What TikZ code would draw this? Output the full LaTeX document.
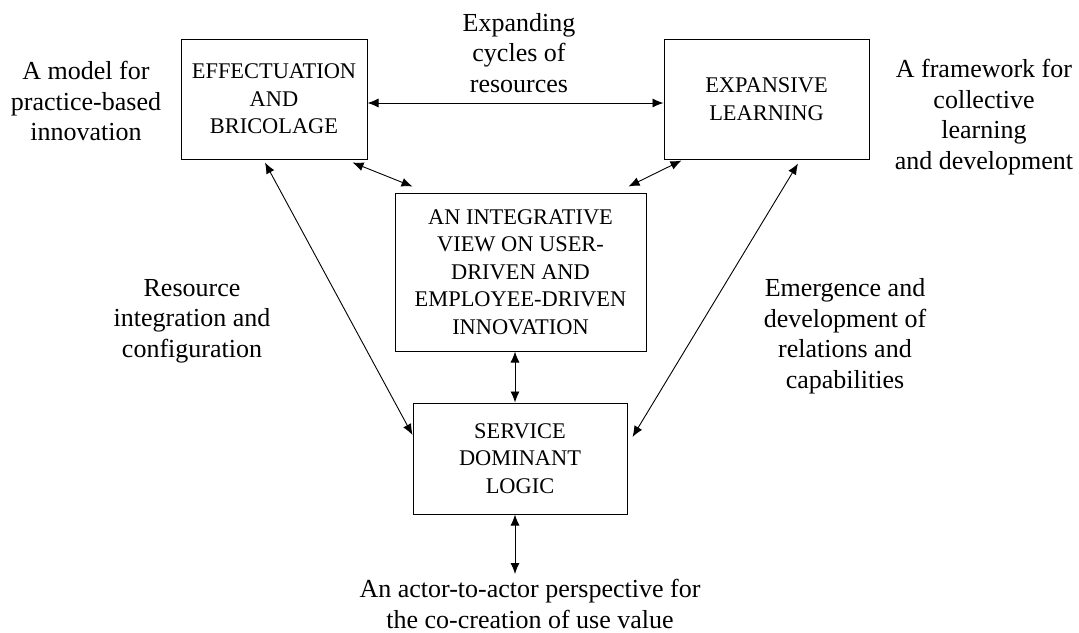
\documentclass[tikz,border=0pt]{standalone}
\usepackage{fontspec}
\setmainfont{Liberation Serif}
\usetikzlibrary{arrows.meta}
\begin{document}
\begin{tikzpicture}[x=1pt,y=-1pt,
  box/.style={draw,line width=1pt,inner sep=0pt,align=center,
    font=\fontsize{22.4}{27.5}\selectfont},
  lbl/.style={align=center,inner sep=0pt,font=\fontsize{26}{30.5}\selectfont},
  link/.style={line width=0.9pt,{Latex[length=11pt,width=9pt]}-{Latex[length=11pt,width=9pt]}}]
\useasboundingbox (0,0) rectangle (1079,632);
\node[box,minimum width=186pt,minimum height=120pt] (eb) at (274,99) {EFFECTUATION\\AND\\BRICOLAGE};
\node[box,minimum width=205pt,minimum height=120pt] (el) at (766.5,99) {EXPANSIVE\\LEARNING};
\node[box,minimum width=251pt,minimum height=158pt] (iv) at (520.5,272) {AN INTEGRATIVE\\VIEW ON USER-\\DRIVEN AND\\EMPLOYEE-DRIVEN\\INNOVATION};
\node[box,minimum width=214pt,minimum height=111pt] (sd) at (520,458.5) {SERVICE\\DOMINANT\\LOGIC};

\node[lbl] (lm) at (86,101) {A model for\\practice-based\\innovation};
\node[lbl] (lf) at (984,117) {A framework for\\collective\\learning\\and development};
\node[lbl] (le) at (519,53) {Expanding\\cycles of\\resources};
\node[lbl] (lr) at (192,321) {Resource\\integration and\\configuration};
\node[lbl] (lg) at (845,336) {Emergence and\\development of\\relations and\\capabilities};
\node[lbl] (la) at (530,604) {An actor-to-actor perspective for\\the co-creation of use value};
\coordinate (aend) at (515,574);

\draw[link] ([yshift=-4pt]eb.east) -- ([yshift=-4pt]el.west);
\draw[link] ([xshift=-15pt,yshift=-3pt]eb.south east) -- ([xshift=18pt,yshift=6pt]iv.north west);
\draw[link] ([xshift=18pt,yshift=-1pt]el.south west) -- ([xshift=-18pt,yshift=6pt]iv.north east);
\draw[link] ([xshift=-9pt,yshift=-3pt]eb.south) -- ([yshift=23.5pt]sd.west);
\draw[link] ([xshift=31.5pt,yshift=-4pt]el.south) -- ([xshift=5pt,yshift=21.5pt]sd.east);
\draw[link] ([xshift=-5.5pt]iv.south) -- ([xshift=-5pt]sd.north);
\draw[link] ([xshift=-5pt]sd.south) -- (aend);
\end{tikzpicture}
\end{document}
